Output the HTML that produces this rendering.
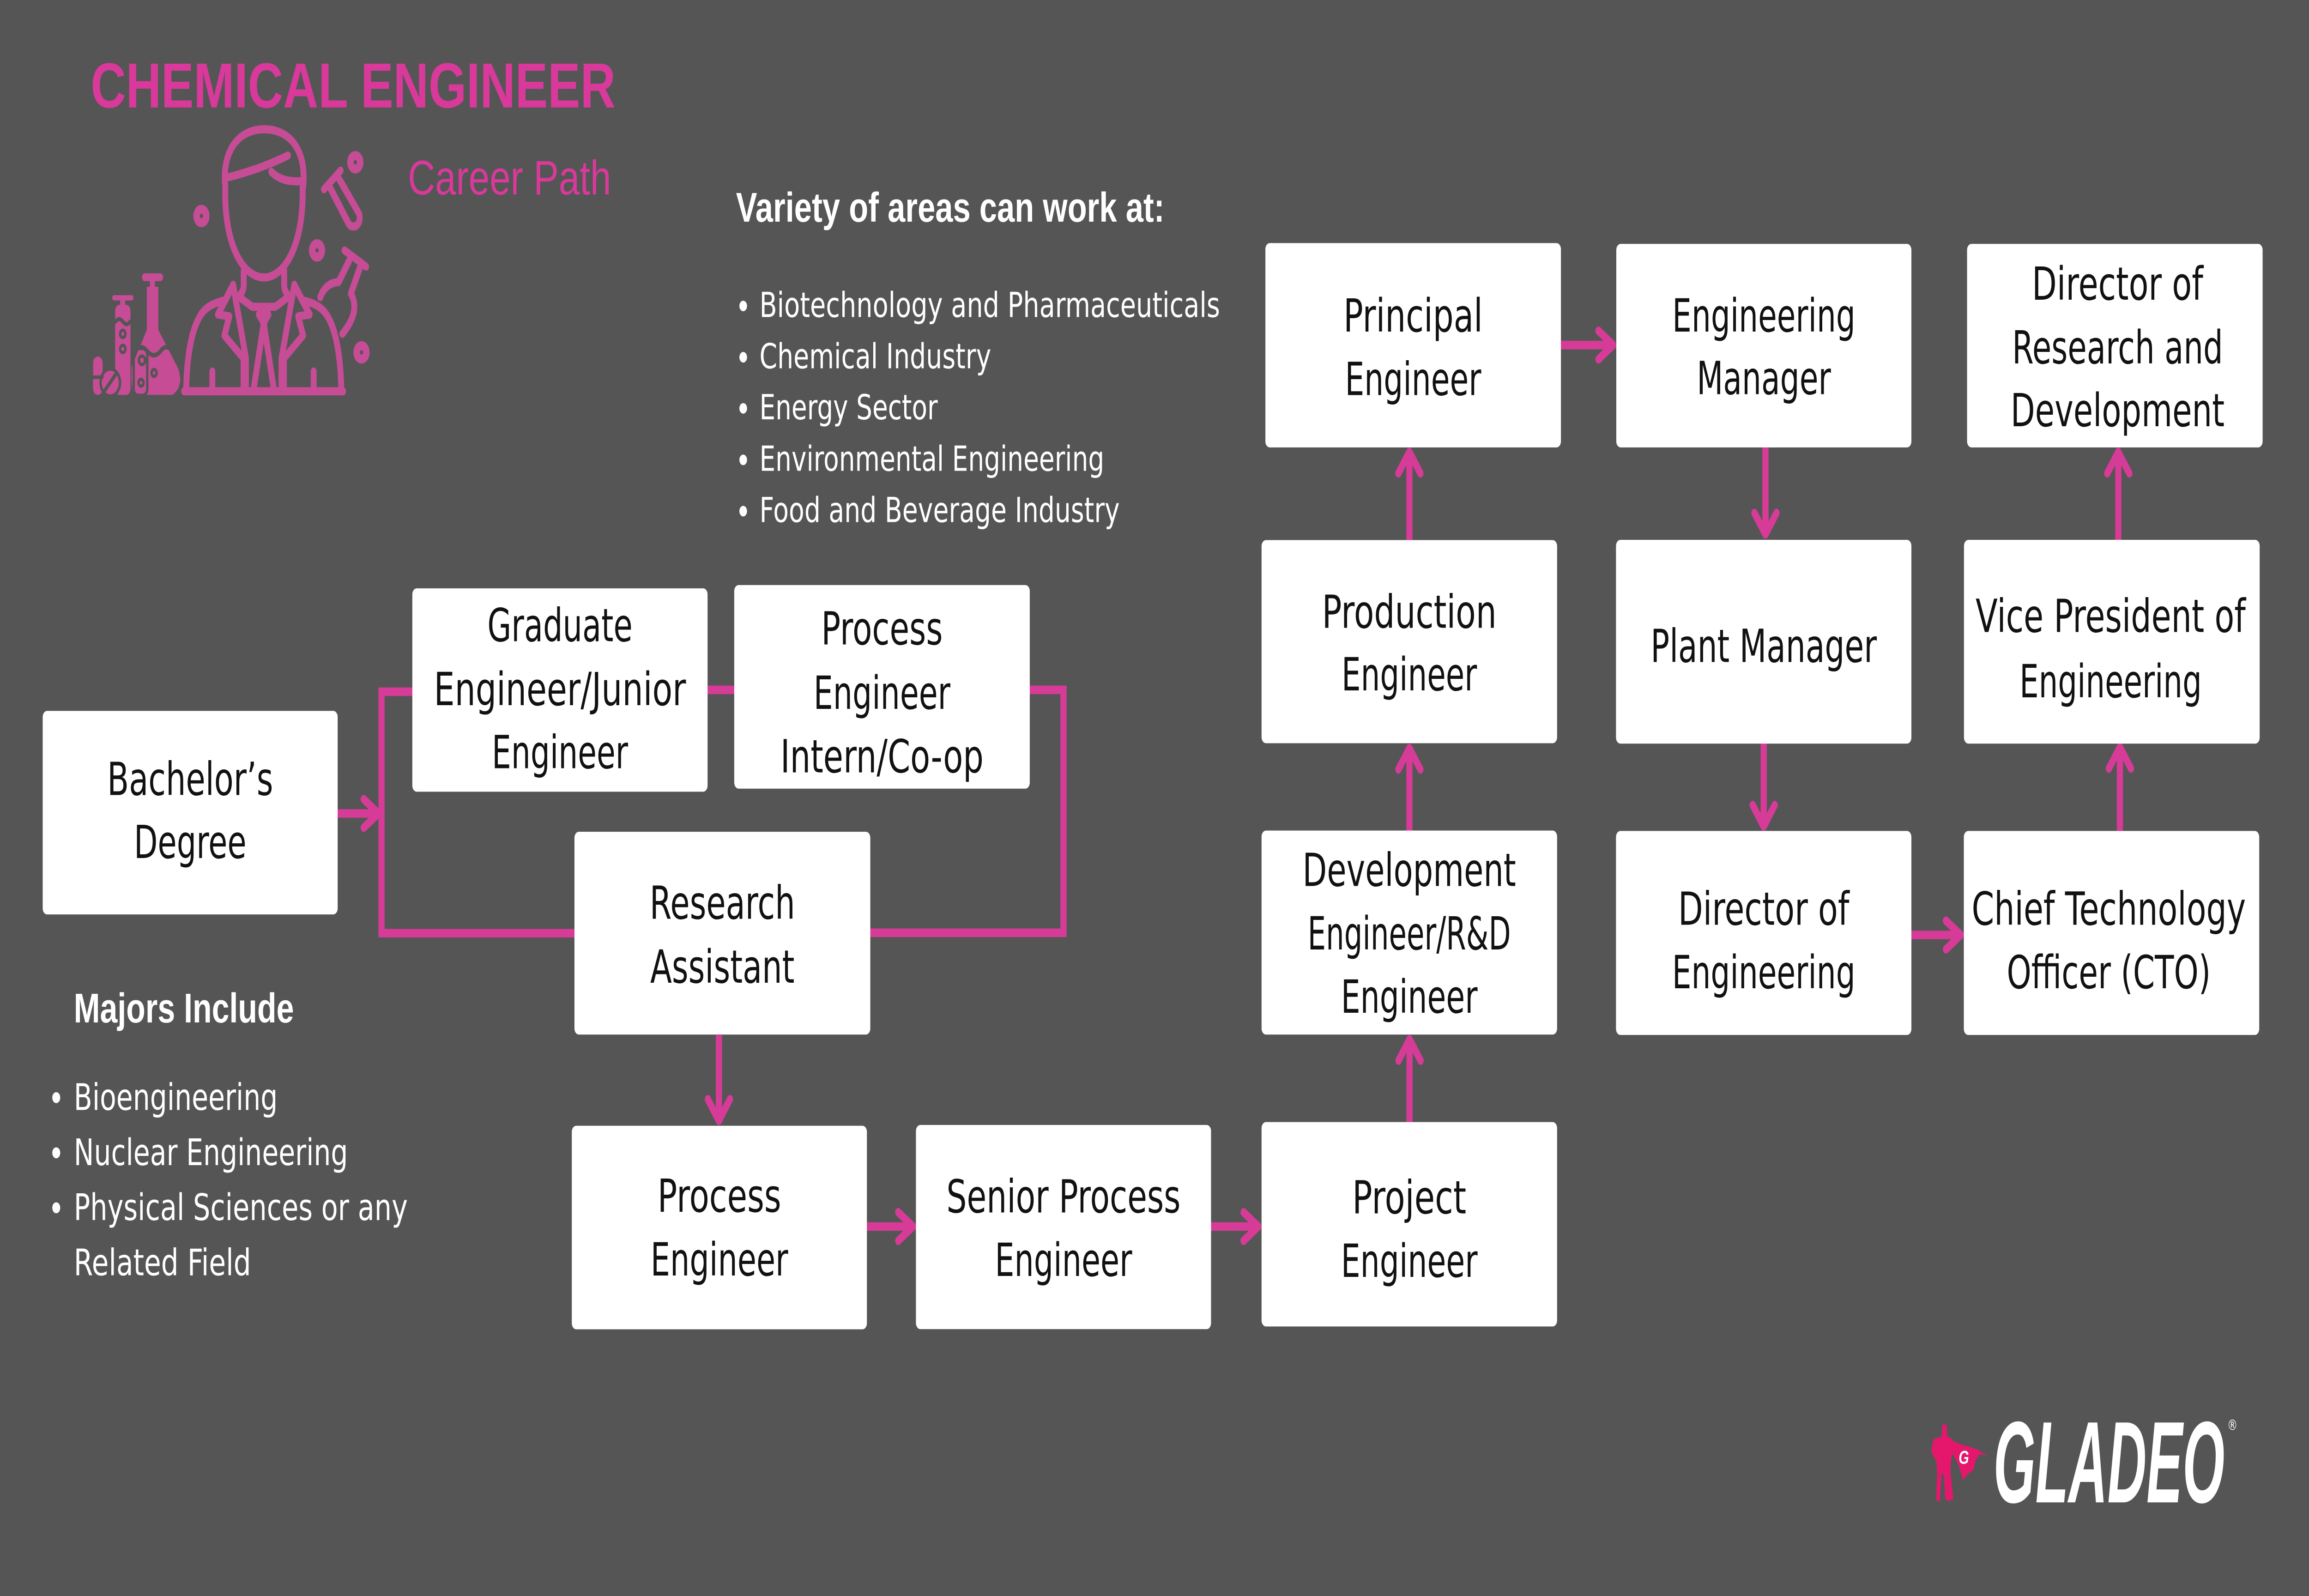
<!DOCTYPE html>
<html>
<head>
<meta charset="utf-8">
<style>
  html, body { margin: 0; padding: 0; width: 100%; height: 100%; overflow: hidden; background: #555555; }
  svg { display: block; width: 100vw; height: 100vh; }
</style>
</head>
<body>
<svg xmlns="http://www.w3.org/2000/svg" viewBox="0 0 1568 784" preserveAspectRatio="none">
  <rect x="0" y="0" width="1568" height="784" fill="#555555"/>

  <!-- Title -->
  <text x="61.6" y="52.8" font-family="Liberation Sans, sans-serif" font-weight="bold" font-size="31.3" fill="#d8399a" textLength="356.4" lengthAdjust="spacingAndGlyphs">CHEMICAL ENGINEER</text>
  <text x="277" y="95.5" font-family="Liberation Sans, sans-serif" font-size="23.7" fill="#d8399a" textLength="138" lengthAdjust="spacingAndGlyphs">Career Path</text>

  <!-- Icon: chemist -->
  <g fill="none" stroke="#c64c96" stroke-width="4" stroke-linecap="round" stroke-linejoin="round">
    <path d="M153 92 C150.5 74 162 63.5 179.5 63.5 C197 63.5 208.5 74 205.8 92"/>
    <path d="M155.4 87 Q177 83 195.5 76.4"/>
    <path d="M184.3 84.4 Q191 89.5 203.5 89"/>
    <path d="M153 92 C152 120 165 136.3 179.2 136.3 C193.4 136.3 206.4 120 205.5 92"/>
    <path d="M165.5 133 L165.5 140 Q165.5 143.5 162 145.5"/>
    <path d="M193 133 L193 140 Q193 143.5 196.5 145.5"/>
    <path d="M163.5 146.5 L171.3 150.7 L187 150.7 L194.7 146.5"/>
    <path d="M175.8 154.5 L182.3 154.5 L179.1 158.7 Z"/>
    <path d="M179.1 158.7 L172.5 190 M179.1 158.7 L185.7 190"/>
    <path d="M158.3 139.9 L148 154.5 L155.7 155.4 L152.4 164.8 L165.4 176.1 L165.4 190.2"/>
    <path d="M158.3 139.9 L167 176 L167 190"/>
    <path d="M199.9 139.9 L210.3 154.5 L202.5 155.4 L205.8 164.8 L192.8 176.1 L192.8 190.2"/>
    <path d="M199.9 139.9 L191.2 176 L191.2 190"/>
    <path d="M126.4 192 C127 172 131 160 137 154 C141 150 147 148.5 153 147.5 L158.3 140"/>
    <path d="M231.8 192 C231.2 172 227.2 160 221.2 154 C217.2 150 211.2 148.5 205.2 147.5 L199.9 140"/>
    <path d="M125 192.2 L233 192.2"/>
    <path d="M144.2 182.5 L144.2 192 M213 182.5 L213 192"/>
    <circle cx="241.3" cy="79.7" r="3.3" stroke-width="4.4"/>
    <circle cx="136.8" cy="106.1" r="3.3" stroke-width="4.4"/>
    <circle cx="215.3" cy="123" r="3.3" stroke-width="4.4"/>
    <circle cx="245.5" cy="173.1" r="3.3" stroke-width="4.4"/>
    <path d="M220 93 L231.3 83.8"/>
    <path d="M224 92 L236.5 109.5 A4 4 0 0 0 243.5 104.5 L230 87.5"/>
    <path d="M234 123 L248.6 131"/>
    <path d="M217.5 146 Q221 139 230 138.5 L237 128.2"/>
    <path d="M244.2 131.9 L238.3 144.2 Q245 153 232.5 164"/>
  </g>
  <g fill="#c64c96">
    <rect x="96.4" y="134.3" width="14.3" height="3.8" rx="1.8"/>
    <rect x="101.8" y="137.5" width="3.4" height="3.8"/>
    <rect x="99.7" y="140.9" width="7.8" height="22"/>
    <path d="M99.7 162 L107.5 162 L121 181 Q125 190 117 194 L92 194 Q88.5 192 89.5 180 Z"/>
    <rect x="76.2" y="145" width="14.4" height="2.6" rx="1.2"/>
    <rect x="81.6" y="147" width="3.4" height="3"/>
    <rect x="78.2" y="149.7" width="10.4" height="44.3" rx="3"/>
    <rect x="63.2" y="175.2" width="6.5" height="18.8" rx="3.2"/>
    <circle cx="74.9" cy="187.9" r="6.6"/>
  </g>
  <g fill="none" stroke="#555555" stroke-width="1.6" stroke-linecap="round">
    <path d="M91.5 172.5 Q95.5 168.5 100 172.5 Q104.5 176.5 109 172.5 Q113 168.5 117 172.5" stroke-width="2.2"/>
    <rect x="90.8" y="171.2" width="9.2" height="23" rx="3"/>
    <circle cx="96.4" cy="177" r="2.1" fill="#c64c96"/>
    <circle cx="104.6" cy="183.2" r="1.7" fill="#c64c96"/>
    <circle cx="95.8" cy="188" r="1.7" fill="#c64c96"/>
    <path d="M78.5 158 Q81 155.5 83.4 158 Q86 160.5 88.3 158" stroke-width="2"/>
    <circle cx="83.4" cy="164" r="1.8" fill="#c64c96"/>
    <circle cx="83.4" cy="171.4" r="1.8" fill="#c64c96"/>
    <path d="M63.5 185.3 L69.5 185.3" stroke-width="1.8"/>
    <circle cx="74.9" cy="187.9" r="6.6"/>
    <path d="M71 192 L78.8 183.6" stroke-width="2"/>
  </g>

  <!-- Variety of areas -->
  <text x="499.8" y="108.9" font-family="Liberation Sans, sans-serif" font-weight="bold" font-size="20.5" fill="#ffffff" textLength="291" lengthAdjust="spacingAndGlyphs">Variety of areas can work at:</text>
  <g fill="#ffffff">
    <circle cx="504.7" cy="150.3" r="2.6"/>
    <circle cx="504.7" cy="175.5" r="2.6"/>
    <circle cx="504.7" cy="200.6" r="2.6"/>
    <circle cx="504.7" cy="225.9" r="2.6"/>
    <circle cx="504.7" cy="251.1" r="2.6"/>
  </g>
  <g font-family="DejaVu Sans, sans-serif" font-size="17" fill="#ffffff">
    <text x="515.7" y="155.7" textLength="312.8" lengthAdjust="spacingAndGlyphs">Biotechnology and Pharmaceuticals</text>
    <text x="515.7" y="180.9" textLength="157.4" lengthAdjust="spacingAndGlyphs">Chemical Industry</text>
    <text x="515.7" y="206" textLength="121.1" lengthAdjust="spacingAndGlyphs">Energy Sector</text>
    <text x="515.7" y="231.3" textLength="234.2" lengthAdjust="spacingAndGlyphs">Environmental Engineering</text>
    <text x="515.7" y="256.5" textLength="244.7" lengthAdjust="spacingAndGlyphs">Food and Beverage Industry</text>
  </g>

  <!-- Majors Include -->
  <text x="50.1" y="502.2" font-family="Liberation Sans, sans-serif" font-weight="bold" font-size="20.5" fill="#ffffff" textLength="149.5" lengthAdjust="spacingAndGlyphs">Majors Include</text>
  <g fill="#ffffff">
    <circle cx="38.2" cy="539.2" r="2.7"/>
    <circle cx="38.2" cy="566.3" r="2.7"/>
    <circle cx="38.2" cy="593.3" r="2.7"/>
  </g>
  <g font-family="DejaVu Sans, sans-serif" font-size="18" fill="#ffffff">
    <text x="50.1" y="545.2" textLength="138.5" lengthAdjust="spacingAndGlyphs">Bioengineering</text>
    <text x="50.1" y="572.3" textLength="186.2" lengthAdjust="spacingAndGlyphs">Nuclear Engineering</text>
    <text x="50.1" y="599.3" textLength="226.8" lengthAdjust="spacingAndGlyphs">Physical Sciences or any</text>
    <text x="50.1" y="626.4" textLength="120.4" lengthAdjust="spacingAndGlyphs">Related Field</text>
  </g>

  <!-- Connectors -->
  <g fill="none" stroke="#d63b97" stroke-width="4.2">
    <path d="M280 339.8 H259.1 V458.4 H390.1" stroke-linejoin="miter"/>
    <path d="M480 338.9 H499"/>
    <path d="M699 338.9 H722.2 V458.2 H590.5" stroke-linejoin="miter"/>
    <path d="M229.3 399.6 H257"/>
    <path d="M488.2 508.4 V550.5"/>
    <path d="M588.7 602.5 H620"/>
    <path d="M822.4 602.5 H854.5"/>
    <path d="M957.2 551.2 V510.5"/>
    <path d="M957.1 408 V367.5"/>
    <path d="M957.1 265.3 V222"/>
    <path d="M1060 169.5 H1095.5"/>
    <path d="M1198.9 219.8 V262.5"/>
    <path d="M1197.7 365.3 V406"/>
    <path d="M1298 459.3 H1331.5"/>
    <path d="M1439.6 408.2 V367"/>
    <path d="M1438.5 265.2 V222"/>
  </g>
  <g fill="none" stroke="#d63b97" stroke-width="4.2" stroke-linecap="round" stroke-linejoin="round">
    <path d="M247 392.6 L257 399.6 L247 406.6"/>
    <path d="M480.7 540 L488.2 550.5 L495.7 540"/>
    <path d="M610 595.5 L620 602.5 L610 609.5"/>
    <path d="M844.5 595.5 L854.5 602.5 L844.5 609.5"/>
    <path d="M949.7 521 L957.2 510.5 L964.7 521"/>
    <path d="M949.6 378 L957.1 367.5 L964.6 378"/>
    <path d="M949.6 232.5 L957.1 222 L964.6 232.5"/>
    <path d="M1085.5 162.5 L1095.5 169.5 L1085.5 176.5"/>
    <path d="M1191.4 252 L1198.9 262.5 L1206.4 252"/>
    <path d="M1190.2 395.5 L1197.7 406 L1205.2 395.5"/>
    <path d="M1321.5 452.3 L1331.5 459.3 L1321.5 466.3"/>
    <path d="M1432.1 377.5 L1439.6 367 L1447.1 377.5"/>
    <path d="M1431 232.5 L1438.5 222 L1446 232.5"/>
  </g>

  <!-- Boxes -->
  <g fill="#ffffff">
    <rect x="29" y="349.2" width="200.3" height="100" rx="3"/>
    <rect x="280" y="289" width="200.5" height="99.9" rx="3"/>
    <rect x="498.6" y="287.4" width="200.7" height="100" rx="3"/>
    <rect x="390.1" y="408.6" width="200.9" height="99.6" rx="3"/>
    <rect x="388.3" y="553" width="200.4" height="100" rx="3"/>
    <rect x="622" y="552.6" width="200.4" height="100.3" rx="3"/>
    <rect x="856.7" y="551.2" width="200.7" height="100.4" rx="3"/>
    <rect x="856.7" y="408" width="200.7" height="100.2" rx="3"/>
    <rect x="856.7" y="265.3" width="200.7" height="99.8" rx="3"/>
    <rect x="859.3" y="119.4" width="200.7" height="100.4" rx="3"/>
    <rect x="1097.6" y="119.8" width="200.4" height="100" rx="3"/>
    <rect x="1097.4" y="265.2" width="200.6" height="100.1" rx="3"/>
    <rect x="1097.4" y="408.2" width="200.6" height="100.2" rx="3"/>
    <rect x="1333.6" y="408.2" width="200.6" height="100.2" rx="3"/>
    <rect x="1333.7" y="265.2" width="200.8" height="100.1" rx="3"/>
    <rect x="1335.8" y="119.8" width="200.7" height="100" rx="3"/>
  </g>

  <!-- Box labels -->
  <g font-family="DejaVu Sans, sans-serif" font-size="22.5" fill="#111111" text-anchor="middle">
    <text x="129.15" y="390.5" textLength="112.7" lengthAdjust="spacingAndGlyphs">Bachelor’s</text>
    <text x="129.15" y="421.5" textLength="76.4" lengthAdjust="spacingAndGlyphs">Degree</text>

    <text x="380.25" y="315" textLength="98.6" lengthAdjust="spacingAndGlyphs">Graduate</text>
    <text x="380.25" y="346.4" textLength="171.2" lengthAdjust="spacingAndGlyphs">Engineer/Junior</text>
    <text x="380.25" y="377.4" textLength="92.5" lengthAdjust="spacingAndGlyphs">Engineer</text>

    <text x="598.95" y="316.6" textLength="82.5" lengthAdjust="spacingAndGlyphs">Process</text>
    <text x="598.95" y="348.2" textLength="92.9" lengthAdjust="spacingAndGlyphs">Engineer</text>
    <text x="598.95" y="379.4" textLength="138" lengthAdjust="spacingAndGlyphs">Intern/Co-op</text>

    <text x="490.55" y="451.3" textLength="98.8" lengthAdjust="spacingAndGlyphs">Research</text>
    <text x="490.55" y="482.7" textLength="98" lengthAdjust="spacingAndGlyphs">Assistant</text>

    <text x="488.5" y="595.3" textLength="84" lengthAdjust="spacingAndGlyphs">Process</text>
    <text x="488.5" y="626.6" textLength="93.4" lengthAdjust="spacingAndGlyphs">Engineer</text>

    <text x="722.2" y="595.6" textLength="159" lengthAdjust="spacingAndGlyphs">Senior Process</text>
    <text x="722.2" y="626.8" textLength="93.2" lengthAdjust="spacingAndGlyphs">Engineer</text>

    <text x="957" y="596.1" textLength="77.5" lengthAdjust="spacingAndGlyphs">Project</text>
    <text x="957" y="627.3" textLength="92.8" lengthAdjust="spacingAndGlyphs">Engineer</text>

    <text x="957" y="435.2" textLength="145" lengthAdjust="spacingAndGlyphs">Development</text>
    <text x="957" y="466.4" textLength="138" lengthAdjust="spacingAndGlyphs">Engineer/R&amp;D</text>
    <text x="957" y="497.5" textLength="92.8" lengthAdjust="spacingAndGlyphs">Engineer</text>

    <text x="957" y="308.4" textLength="118.6" lengthAdjust="spacingAndGlyphs">Production</text>
    <text x="957" y="339.1" textLength="92" lengthAdjust="spacingAndGlyphs">Engineer</text>

    <text x="959.6" y="162.9" textLength="94.6" lengthAdjust="spacingAndGlyphs">Principal</text>
    <text x="959.6" y="194.1" textLength="92.5" lengthAdjust="spacingAndGlyphs">Engineer</text>

    <text x="1197.8" y="162.9" textLength="124.4" lengthAdjust="spacingAndGlyphs">Engineering</text>
    <text x="1197.8" y="193.6" textLength="91.1" lengthAdjust="spacingAndGlyphs">Manager</text>

    <text x="1197.7" y="325.2" textLength="153.6" lengthAdjust="spacingAndGlyphs">Plant Manager</text>

    <text x="1197.7" y="454.3" textLength="116.2" lengthAdjust="spacingAndGlyphs">Director of</text>
    <text x="1197.7" y="485.5" textLength="124.5" lengthAdjust="spacingAndGlyphs">Engineering</text>

    <text x="1432" y="454.3" textLength="186.2" lengthAdjust="spacingAndGlyphs">Chief Technology</text>
    <text x="1432" y="485.5" textLength="138.5" lengthAdjust="spacingAndGlyphs">Officer (CTO)</text>

    <text x="1433.3" y="310.4" textLength="183.4" lengthAdjust="spacingAndGlyphs">Vice President of</text>
    <text x="1433.3" y="342.5" textLength="123.8" lengthAdjust="spacingAndGlyphs">Engineering</text>

    <text x="1438" y="147.2" textLength="116.3" lengthAdjust="spacingAndGlyphs">Director of</text>
    <text x="1438" y="178.5" textLength="143.2" lengthAdjust="spacingAndGlyphs">Research and</text>
    <text x="1438" y="209.4" textLength="145.3" lengthAdjust="spacingAndGlyphs">Development</text>
  </g>

  <!-- GLADEO logo -->
  <g fill="#e5176d">
    <path d="M1319 699.8 L1322 699.8 L1322.3 705.5 L1326 707 L1327 711 L1325 717 L1324.5 723 L1325.5 730 L1326.5 736.5 L1323 737.3 L1321 736.5 L1320.5 730 L1320 724 L1318.5 724 L1318 730 L1317.3 737.3 L1315 737.3 L1315 731 L1315.5 724 L1315 718 L1313.5 716 L1311.5 713 L1313 707 L1318.7 705.5 Z"/>
    <path d="M1324 707.3 L1333 709.8 L1343 712 L1349.4 715.3 L1344.5 714.3 L1341.5 717.5 L1340.3 722 L1336.5 724 L1333 727 L1330.5 720.5 L1326 714 Z"/>
  </g>
  <text x="1333.6" y="719" font-family="Liberation Sans, sans-serif" font-weight="bold" font-style="italic" font-size="9" fill="#ffffff" text-anchor="middle">G</text>
  <text x="1353.7" y="738" font-family="Liberation Sans, sans-serif" font-weight="bold" font-style="italic" font-size="57" fill="#ffffff" textLength="157" lengthAdjust="spacingAndGlyphs">GLADEO</text>
  <text x="1516" y="702.5" font-family="DejaVu Sans, sans-serif" font-size="7" fill="#ffffff" text-anchor="middle">®</text>
</svg>
</body>
</html>
